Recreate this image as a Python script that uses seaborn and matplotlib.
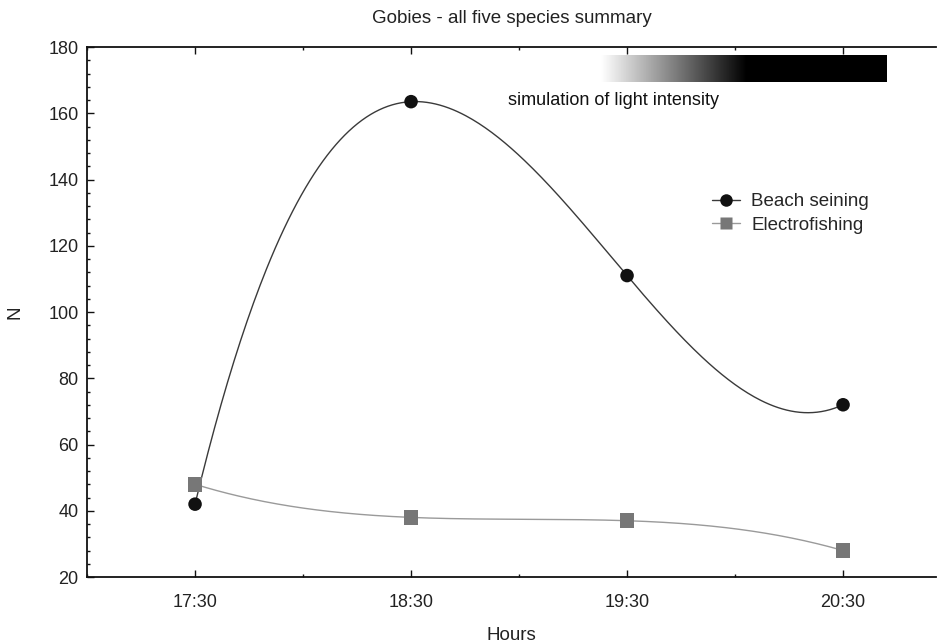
import numpy as np
import pandas as pd
import seaborn as sns
import matplotlib.pyplot as plt
from matplotlib.lines import Line2D
from matplotlib.ticker import MultipleLocator

hours = ["17:30", "18:30", "19:30", "20:30"]
beach_seining = [42, 163.5, 111, 72]
electrofishing = [48, 38, 37, 28]

sns.set_theme(style="white")
plt.rcParams["font.family"] = ["Liberation Sans", "DejaVu Sans"]

fig = plt.figure(figsize=(9.38, 6.43), dpi=100)
ax = fig.add_axes([0.0928, 0.1026, 0.905, 0.8243])

xpos = np.arange(len(hours))
xs = np.linspace(0, len(hours) - 1, 300)


def smooth(values):
    # cubic through the four points, as the original software draws it
    coef = np.polyfit(xpos, values, len(values) - 1)
    return np.polyval(coef, xs)


curves = pd.DataFrame({
    "x": np.concatenate([xs, xs]),
    "N": np.concatenate([smooth(beach_seining), smooth(electrofishing)]),
    "method": ["Beach seining"] * len(xs) + ["Electrofishing"] * len(xs),
})
points = pd.DataFrame({
    "x": np.concatenate([xpos, xpos]),
    "N": beach_seining + electrofishing,
    "method": ["Beach seining"] * 4 + ["Electrofishing"] * 4,
})

line_colors = {"Beach seining": "#3a3a3a", "Electrofishing": "#9a9a9a"}
mark_colors = {"Beach seining": "#111111", "Electrofishing": "#777777"}

sns.lineplot(data=curves, x="x", y="N", hue="method", palette=line_colors,
             linewidth=1.0, legend=False, ax=ax, sort=False, estimator=None)
sns.scatterplot(data=points[points.method == "Beach seining"], x="x", y="N",
                color=mark_colors["Beach seining"], marker="o", s=95,
                edgecolor="none", legend=False, ax=ax, zorder=3)
sns.scatterplot(data=points[points.method == "Electrofishing"], x="x", y="N",
                color=mark_colors["Electrofishing"], marker="s", s=110,
                edgecolor="none", legend=False, ax=ax, zorder=3)

# light intensity gradient bar
ramp = np.clip(np.linspace(0, 1, 400) / 0.51, 0, 1)[None, :]
ax.imshow(ramp, cmap="gray_r", aspect="auto", extent=(1.88, 3.2, 169.4, 177.3),
          vmin=0, vmax=1, zorder=2, interpolation="bilinear")
ax.text(1.935, 164, "simulation of light intensity", ha="center", va="center",
        fontsize=13, color="#111111")

ax.set_xlim(-0.5, 3.43)
ax.set_ylim(20, 180)
ax.set_xticks(xpos)
ax.set_xticklabels(hours)
ax.xaxis.set_minor_locator(MultipleLocator(0.5))
ax.set_yticks(np.arange(20, 181, 20))
ax.yaxis.set_minor_locator(MultipleLocator(4))
ax.tick_params(which="both", direction="in", top=True, bottom=True,
               left=True, right=False, colors="#111111", labelsize=13,
               labelcolor="#222222")
ax.tick_params(which="major", length=5, width=1.0)
ax.tick_params(which="minor", length=2.5, width=1.0)
ax.tick_params(axis="x", pad=12)
ax.tick_params(axis="y", pad=6)

for side in ["left", "bottom", "top"]:
    ax.spines[side].set_color("#111111")
    ax.spines[side].set_linewidth(1.3)
ax.spines["right"].set_visible(False)

ax.set_xlabel("Hours", fontsize=13.5, color="#222222", labelpad=12)
ax.set_ylabel("N", fontsize=13.5, color="#222222", labelpad=18)
ax.set_title("Gobies - all five species summary", fontsize=13.5,
             color="#222222", pad=17)

handles = [
    Line2D([], [], color=line_colors["Beach seining"], lw=1.0, marker="o",
           markersize=9, markerfacecolor=mark_colors["Beach seining"],
           markeredgecolor="none", label="Beach seining"),
    Line2D([], [], color=line_colors["Electrofishing"], lw=1.0, marker="s",
           markersize=9, markerfacecolor=mark_colors["Electrofishing"],
           markeredgecolor="none", label="Electrofishing"),
]
ax.legend(handles=handles, loc="upper left", bbox_to_anchor=(0.725, 0.742),
          frameon=False, fontsize=13.5, handlelength=1.5, handletextpad=0.6,
          labelspacing=0.35, borderpad=0)

fig.savefig("out.png", dpi=100)
